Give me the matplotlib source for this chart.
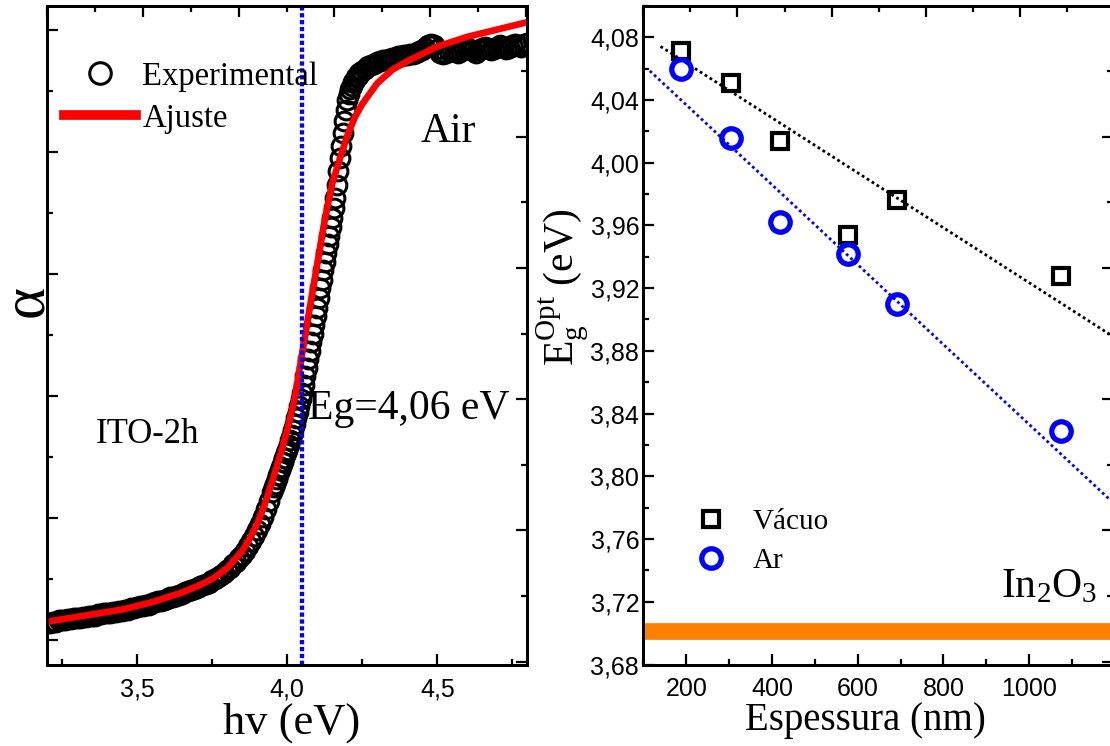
import numpy as np
import matplotlib.pyplot as plt
from matplotlib.ticker import MultipleLocator, FuncFormatter, NullFormatter

plt.rcParams['font.family'] = 'Liberation Serif'
plt.rcParams['mathtext.fontset'] = 'custom'
plt.rcParams['mathtext.rm'] = 'Liberation Serif'
plt.rcParams['mathtext.it'] = 'Liberation Serif:italic'

# ---- left panel: absorption edge (alpha in arbitrary units) ----
# experimental points in three stretches of the grid
alpha_a = [0.14, 0.14, 0.15, 0.15, 0.16, 0.16, 0.16, 0.17, 0.17, 0.18,
           0.18, 0.18, 0.19, 0.19, 0.20, 0.20, 0.20, 0.21, 0.21, 0.22,
           0.22, 0.22, 0.23, 0.23, 0.24, 0.24, 0.25, 0.25, 0.26, 0.26,
           0.27, 0.28, 0.28, 0.29, 0.29, 0.30, 0.31, 0.32, 0.32, 0.33,
           0.34, 0.35, 0.35, 0.36, 0.37, 0.38, 0.39, 0.40, 0.41, 0.42,
           0.43, 0.44, 0.45, 0.46, 0.47, 0.49, 0.50, 0.52, 0.53, 0.55,
           0.57, 0.59, 0.62, 0.64, 0.67, 0.70, 0.73, 0.77, 0.81, 0.85,
           0.90, 0.95, 1.01, 1.07, 1.14, 1.21]              # 3.20 .. 3.95, step 0.01
alpha_b = [1.25, 1.28, 1.32, 1.35, 1.39, 1.42, 1.46, 1.49, 1.53, 1.56,
           1.60, 1.64, 1.68, 1.72, 1.77, 1.82, 1.87, 1.92, 1.97, 2.02,
           2.09, 2.16, 2.23, 2.30, 2.37, 2.44, 2.51, 2.58, 2.65, 2.72,
           2.80, 2.88, 2.95, 3.03, 3.10, 3.17, 3.24, 3.31, 3.38, 3.46,
           3.54, 3.62, 3.73, 3.84, 3.95, 4.05, 4.15, 4.25, 4.34, 4.42,
           4.47, 4.51, 4.54, 4.57, 4.59, 4.61, 4.62, 4.64, 4.65, 4.66]  # 3.955 .. 4.25, step 0.005
alpha_c = [4.68, 4.70, 4.71, 4.72, 4.73, 4.74, 4.75, 4.75, 4.76, 4.77,
           4.77, 4.78, 4.78, 4.79, 4.79, 4.80, 4.80, 4.81, 4.82, 4.83,
           4.85, 4.87, 4.88, 4.87, 4.84, 4.81, 4.80, 4.81, 4.82, 4.83,
           4.82, 4.81, 4.82, 4.84, 4.85, 4.84, 4.82, 4.81, 4.83, 4.85,
           4.86, 4.85, 4.83, 4.84, 4.86, 4.87, 4.86, 4.84, 4.85, 4.87,
           4.88, 4.87, 4.86, 4.88, 4.89]                      # 4.26 .. 4.80, step 0.01

hv_a = np.round(3.20 + 0.01 * np.arange(len(alpha_a)), 3)
hv_b = np.round(3.955 + 0.005 * np.arange(len(alpha_b)), 3)
hv_c = np.round(4.26 + 0.01 * np.arange(len(alpha_c)), 3)
hv_exp = np.concatenate([hv_a, hv_b, hv_c])
alpha_exp = np.array(alpha_a + alpha_b + alpha_c)

# fitted curve
hv_fit = [3.20, 3.25, 3.30, 3.35, 3.40, 3.45, 3.50, 3.55, 3.60, 3.65,
          3.70, 3.75, 3.80, 3.85, 3.875, 3.90, 3.925, 3.95, 3.975, 4.00,
          4.025, 4.05, 4.075, 4.10, 4.125, 4.15, 4.175, 4.20, 4.225, 4.25,
          4.30, 4.35, 4.40, 4.45, 4.50, 4.55, 4.60, 4.65, 4.70, 4.75, 4.80]
alpha_fit = [0.15, 0.17, 0.19, 0.21, 0.23, 0.25, 0.28, 0.31, 0.35, 0.39,
             0.44, 0.50, 0.59, 0.73, 0.83, 0.95, 1.11, 1.30, 1.50, 1.72,
             1.98, 2.35, 2.72, 3.08, 3.44, 3.74, 3.94, 4.13, 4.28, 4.39,
             4.56, 4.67, 4.74, 4.80, 4.86, 4.90, 4.94, 4.97, 5.00, 5.03, 5.06]
eg_line = 4.05

# ---- right panel: optical gap vs thickness ----
thickness = [187, 305, 419, 578, 692, 1073]
eg_vacuo = [4.071, 4.051, 4.014, 3.954, 3.976, 3.928]
eg_ar = [4.060, 4.016, 3.962, 3.942, 3.910, 3.829]
fit_x_vacuo = [140, 1200]
fit_vacuo = [4.0741, 3.8884]
fit_x_ar = [115, 1200]
fit_ar = [4.0585, 3.7821]
eg_in2o3 = 3.7015

def comma(fmt):
    return FuncFormatter(lambda v, p: fmt.format(v).replace('.', ','))

def ticks(ax, labels=True):
    ax.tick_params(which='both', direction='in', width=1.6, labelsize=18,
                   labelfontfamily='Liberation Sans', pad=9)
    ax.tick_params(which='major', length=8)
    ax.tick_params(which='minor', length=4)
    for s in ax.spines.values():
        s.set_linewidth(1.9)

fig = plt.figure(figsize=(11.1, 7.46), dpi=100)

# left
ax1 = fig.add_axes([0.04261, 0.1092, 0.43243, 0.8830])
ax1.plot(hv_exp, alpha_exp, 'o', ms=13.5, mfc='none', mec='k', mew=2.2, label='Experimental')
ax1.plot(hv_fit, alpha_fit, '-', color='red', lw=4.8, label='Ajuste')
ax1.axvline(eg_line, color='blue', lw=3.1, linestyle=(0, (1, 0.6)), zorder=5)
ax1.set_xlim(3.2, 4.8)
ax1.set_ylim(-0.2007, 5.194)
ax1.xaxis.set_major_locator(MultipleLocator(0.5))
ax1.xaxis.set_minor_locator(MultipleLocator(0.25))
ax1.xaxis.set_major_formatter(comma('{:.1f}'))
ax1.yaxis.set_major_locator(MultipleLocator(1))
ax1.yaxis.set_minor_locator(MultipleLocator(0.5))
ax1.yaxis.set_major_formatter(NullFormatter())
ticks(ax1)
ax1.tick_params(which='both', top=False, right=False)
ax1.set_xlabel('hv (eV)', fontsize=32)
ax1.xaxis.set_label_coords(0.51, -0.057)
ax1.set_ylabel('α', fontsize=44)
ax1.yaxis.set_label_coords(0.017, 0.552)

leg1 = ax1.legend(loc='upper left', bbox_to_anchor=(0.035, 0.916), frameon=False,
                  fontsize=23.5, borderpad=0, borderaxespad=0, handlelength=2.2,
                  handletextpad=0.2, labelspacing=0.35, markerscale=1.15, numpoints=1)
leg1.get_lines()[1].set_linewidth(7)

ax1.text(0.778, 0.793, 'Air', transform=ax1.transAxes, fontsize=30)
ax1.text(0.543, 0.373, 'Eg=4,06 eV', transform=ax1.transAxes, fontsize=30)
ax1.text(0.1015, 0.336, 'ITO-2h', transform=ax1.transAxes, fontsize=25)

ax1t = ax1.twiny()
ax1t.set_xlim(0, 5.016)
ax1t.xaxis.set_major_locator(MultipleLocator(1))
ax1t.xaxis.set_minor_locator(MultipleLocator(0.5))
ticks(ax1t)
ax1t.tick_params(which='both', labeltop=False)
ax1r = ax1.twinx()
ax1r.set_ylim(-0.021, 4.996)
ax1r.yaxis.set_major_locator(MultipleLocator(1))
ax1r.yaxis.set_minor_locator(MultipleLocator(0.5))
ticks(ax1r)
ax1r.tick_params(which='both', labelright=False)

# right
ax2 = fig.add_axes([0.57964, 0.1092, 0.4233, 0.8830])
ax2.plot(fit_x_vacuo, fit_vacuo, color='k', lw=2.0, linestyle=(0, (1, 1.1)))
ax2.plot(fit_x_ar, fit_ar, color='blue', lw=2.0, linestyle=(0, (1, 1.1)))
ax2.axhline(eg_in2o3, color='#FF8000', lw=12)
ax2.plot(thickness, eg_vacuo, 's', ms=11, mfc='none', mec='k', mew=3, label='Vácuo')
ax2.plot(thickness, eg_ar, 'o', ms=14, mfc='none', mec='blue', mew=3.8, label='Ar')
ax2.set_xlim(100, 1196)
ax2.set_ylim(3.68, 4.10)
ax2.xaxis.set_major_locator(MultipleLocator(200))
ax2.xaxis.set_minor_locator(MultipleLocator(100))
ax2.yaxis.set_major_locator(MultipleLocator(0.04))
ax2.yaxis.set_minor_locator(MultipleLocator(0.02))
ax2.yaxis.set_major_formatter(comma('{:.2f}'))
ticks(ax2)
ax2.tick_params(which='both', top=False, right=False)
ax2.tick_params(axis='y', pad=3)
ax2.set_xlabel('Espessura (nm)', fontsize=28)
ax2.xaxis.set_label_coords(0.472, -0.057)
ax2.set_ylabel(r'$\mathrm{E_g^{Opt}}$ (eV)', fontsize=30)
ax2.yaxis.set_label_coords(-0.112, 0.573)
ax2.text(934, 3.723, r'$\mathrm{In_2O_3}$', fontsize=30)

ax2.legend(loc='upper left', bbox_to_anchor=(0.097, 0.237), frameon=False,
           fontsize=21, borderpad=0, borderaxespad=0, handlelength=1.5,
           handletextpad=0.7, labelspacing=0.43, numpoints=1)

ax2t = ax2.twiny()
ax2t.set_xlim(0, 4.994)
ax2t.xaxis.set_major_locator(MultipleLocator(1))
ax2t.xaxis.set_minor_locator(MultipleLocator(0.5))
ticks(ax2t)
ax2t.tick_params(which='both', labeltop=False)
ax2r = ax2.twinx()
ax2r.set_ylim(-0.021, 4.996)
ax2r.yaxis.set_major_locator(MultipleLocator(1))
ax2r.yaxis.set_minor_locator(MultipleLocator(0.5))
ticks(ax2r)
ax2r.tick_params(which='both', labelright=False)

fig.savefig('out.png', dpi=100)
